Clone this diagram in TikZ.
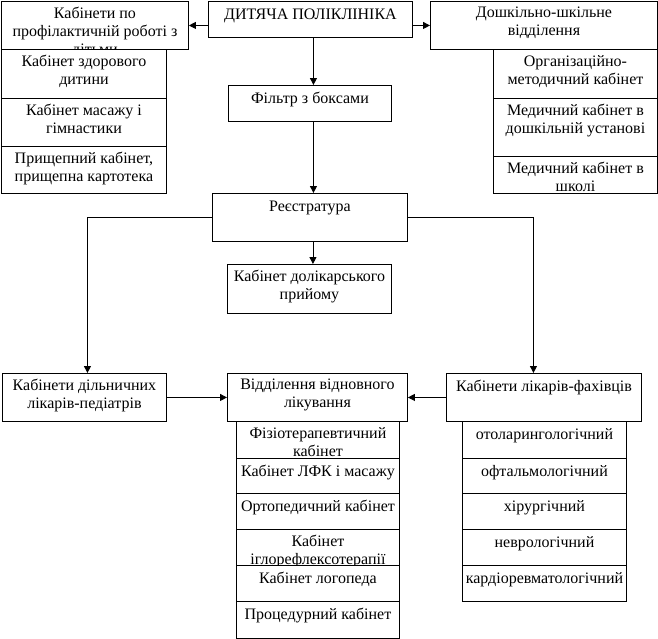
\documentclass[tikz,border=0pt]{standalone}
\usepackage{fontspec}
\setmainfont{Liberation Serif}
\usetikzlibrary{arrows.meta}
\newcommand\fs{\fontsize{16pt}{18pt}\selectfont}
\tikzset{
  box/.style={draw, fill=white, inner sep=0pt, anchor=north west, line width=0.9pt},
  txt/.style={anchor=north, align=center, inner sep=0pt, font=\fs, execute at begin node=\strut},
  arr/.style={line width=0.9pt, -{Triangle[length=7pt,width=7pt]}}
}
\newcommand\bx[6]{%
  \node[box, minimum width={#4-#2}, minimum height={#5-#3}] (#1) at (#2,#3) {};
  \node[txt] (#1t) at ([yshift=-6pt]#1.north) {#6};}
\begin{document}
\begin{tikzpicture}[x=1pt,y=-1pt]
\useasboundingbox[fill=white] (0,0) rectangle (658,638);
% top row
\bx{prof}{1}{1}{188}{49}{Кабінети по\\профілактичній роботі з\\дітьми}
\bx{profa}{1}{49}{166}{98}{Кабінет здорового\\дитини}
\bx{profb}{1}{98}{166}{146}{Кабінет масажу і\\гімнастики}
\bx{profc}{1}{146}{166}{193}{Прищепний кабінет,\\прищепна картотека}
\bx{main}{208}{1}{412}{37}{ДИТЯЧА ПОЛІКЛІНІКА}
\bx{pre}{430}{1}{657}{49}{Дошкільно-шкільне\\відділення}
\bx{prea}{493}{49}{657}{98}{Організаційно-\\методичний кабінет}
\bx{preb}{493}{98}{657}{156}{Медичний кабінет в\\дошкільній установі}
\bx{prec}{493}{156}{657}{193}{Медичний кабінет в\\школі}
% centre
\bx{filt}{228}{85}{391}{121}{Фільтр з боксами}
\bx{reg}{212}{193}{407}{241}{Реєстратура}
\bx{prel}{227}{264}{391}{313}{Кабінет долікарського\\прийому}
% bottom row
\bx{ped}{2}{373}{166}{421}{Кабінети дільничних\\лікарів-педіатрів}
\bx{reh}{227}{373}{407}{421}{Відділення відновного\\лікування}
\bx{spec}{446}{373}{641}{421}{Кабінети лікарів-фахівців}
\bx{reha}{236}{421}{399}{458}{Фізіотерапевтичний\\кабінет}
\bx{rehb}{236}{458}{399}{493}{Кабінет ЛФК і масажу}
\bx{rehc}{236}{493}{399}{529}{Ортопедичний кабінет}
\bx{rehd}{236}{529}{399}{565}{Кабінет\\іглорефлексотерапії}
\bx{rehe}{236}{565}{399}{601}{Кабінет логопеда}
\bx{rehf}{236}{601}{399}{638}{Процедурний кабінет}
\bx{speca}{462}{421}{626}{458}{отоларингологічний}
\bx{specb}{462}{458}{626}{493}{офтальмологічний}
\bx{specc}{462}{493}{626}{529}{хірургічний}
\bx{specd}{462}{529}{626}{565}{неврологічний}
\bx{spece}{462}{565}{626}{601}{кардіоревматологічний}
% connectors
\draw[arr] (prof.east -| main.west) -- (prof.east);
\draw[arr] (pre.west -| main.east) -- (pre.west);
\draw[arr] ([xshift=3pt]main.south) -- ([xshift=3pt]main.south |- filt.north);
\draw[arr] ([xshift=3.5pt]filt.south) -- ([xshift=3.5pt]filt.south |- reg.north);
\draw[arr] ([xshift=3pt]reg.south) -- ([xshift=3pt]reg.south |- prel.north);
\draw[arr] (reg.west) -| ([xshift=3pt]ped.north);
\draw[arr] (reg.east) -| ([xshift=-10.5pt]spec.north);
\draw[arr] (ped.east) -- (reh.west);
\draw[arr] (spec.west) -- (reh.east);
\end{tikzpicture}
\end{document}
